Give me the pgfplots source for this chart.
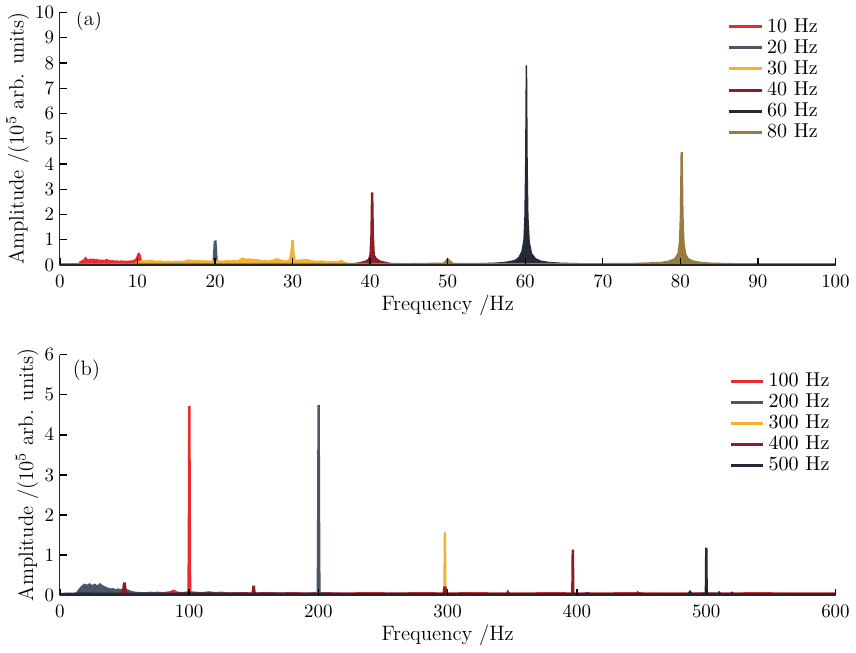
\documentclass[border=0pt]{standalone}
\usepackage{pgfplots}
\pgfplotsset{compat=1.18}
\definecolor{cred}{HTML}{EC2A2E}
\definecolor{cslate}{HTML}{4B5669}
\definecolor{corange}{HTML}{F5B12E}
\definecolor{cdred}{HTML}{8E1C22}
\definecolor{cnavy}{HTML}{232936}
\definecolor{cbrown}{HTML}{9A7B3E}

\pgfplotsset{
  spec/.style={
    scale only axis,
    width=409.5pt,
    font=\fontsize{11}{13}\selectfont,
    tick label style={font=\fontsize{10.2}{12}\selectfont},
    axis lines*=left,
    axis line style={black!85, line width=0.6pt},
    tick align=inside,
    major tick length=3.5pt,
    tick style={black, line width=0.7pt},
    axis on top,
    ymin=0,
    xlabel={Frequency /Hz},
    ylabel={Amplitude /(10$^5$ arb. units)},
    xticklabel style={yshift=-2pt},
    xlabel style={yshift=3pt},
    ylabel style={yshift=-3.5pt},
    yticklabel style={xshift=0.5pt},
    legend cell align=left,
    legend style={draw=none, fill=none, row sep=-1.6pt, inner sep=1pt,
      font=\fontsize{10.6}{12.5}\selectfont},
    legend image code/.code={\draw[#1, line width=1.6pt] (0cm,0cm) -- (0.6cm,0cm);},
  },
  sp/.style={#1, fill=#1, line width=0.8pt},
}

\begin{document}
\begin{tikzpicture}
% ---------------- (a) ----------------
\begin{axis}[spec,
  height=133.4pt,
  xmin=0, xmax=100, ymax=10,
  xtick={0,10,...,100}, ytick={0,1,...,10},
  legend style={at={(0.985,1.0)}, anchor=north east},
]
\addplot[sp=cred] coordinates {
(0,0.02) (2.4,0.02) (2.6,0.12) (2.9,0.17) (3.1,0.2) (3.3,0.29) (3.5,0.22) (3.7,0.19)
(3.9,0.23) (4.1,0.2) (4.3,0.23) (4.5,0.19) (4.7,0.22) (4.9,0.18) (5.1,0.2) (5.3,0.17)
(5.5,0.19) (5.7,0.16) (5.9,0.2) (6.1,0.21) (6.3,0.16) (6.5,0.18) (6.7,0.15) (6.9,0.17)
(7.1,0.14) (7.3,0.16) (7.5,0.15) (7.7,0.13) (7.9,0.16) (8.1,0.14) (8.3,0.15) (8.5,0.13)
(8.7,0.15) (8.9,0.14) (9.1,0.16) (9.3,0.15) (9.5,0.17) (9.7,0.2) (9.9,0.28) (10.05,0.42)
(10.2,0.46) (10.35,0.38) (10.5,0.15) (10.7,0.06) (11,0.03) (100,0.02)
} \closedcycle;
\addlegendentry{10 Hz}
\addplot[sp=cslate] coordinates {
(0,0.01) (19.75,0.02) (19.85,0.5) (19.92,0.93) (20.1,0.95) (20.18,0.6) (20.28,0.03) (100,0.01)
} \closedcycle;
\addlegendentry{20 Hz}
\addplot[sp=corange] coordinates {
(0,0.01) (9.2,0.02) (9.6,0.06) (10,0.1) (10.5,0.17) (11,0.15) (11.5,0.18) (12,0.16)
(12.5,0.14) (13,0.16) (13.5,0.13) (14,0.15) (14.5,0.12) (15,0.15) (15.5,0.13) (16,0.14)
(16.5,0.2) (17,0.18) (17.5,0.16) (18,0.17) (18.5,0.15) (19,0.16) (19.5,0.14) (20,0.15)
(20.5,0.16) (21,0.14) (21.5,0.17) (22,0.15) (22.5,0.18) (23,0.17) (23.5,0.27) (24,0.22)
(24.5,0.24) (25,0.2) (25.5,0.21) (26,0.16) (26.5,0.18) (27,0.15) (27.5,0.19) (28,0.25)
(28.4,0.2) (28.8,0.17) (29.2,0.15) (29.6,0.2) (29.85,0.6) (29.92,0.97) (30.08,0.97) (30.15,0.5)
(30.3,0.18) (30.8,0.19) (31.3,0.2) (31.8,0.22) (32.3,0.17) (32.8,0.15) (33.3,0.14) (33.8,0.16)
(34.3,0.13) (34.8,0.14) (35.3,0.12) (35.8,0.13) (36.3,0.18) (36.7,0.1) (37.2,0.04) (38,0.02)
(100,0.01)
} \closedcycle;
\addlegendentry{30 Hz}
\addplot[sp=cdred] coordinates {
(0,0.01) (36,0.02) (38,0.05) (38.8,0.1) (39.4,0.15) (39.8,0.22) (40.0,0.4) (40.12,1.2)
(40.2,2.85) (40.32,2.85) (40.4,1.2) (40.52,0.4) (40.8,0.25) (41.3,0.15) (42,0.1) (42.8,0.05)
(44,0.02) (100,0.01)
} \closedcycle;
\addlegendentry{40 Hz}
\addplot[sp=cnavy] coordinates {
(0,0.01) (45,0.02) (50,0.03) (54,0.05) (56,0.07) (57,0.09) (58,0.13) (58.7,0.18)
(59.2,0.3) (59.6,0.55) (59.85,1.0) (59.97,1.9) (60.07,4) (60.15,7.9) (60.23,4) (60.33,1.9)
(60.5,0.9) (60.8,0.45) (61.3,0.25) (62,0.15) (63,0.1) (64.5,0.07) (67,0.05) (72,0.03)
(100,0.02)
} \closedcycle;
\addlegendentry{60 Hz}
\addplot[sp=cbrown] coordinates {
(0,0.04) (2,0.05) (5,0.05) (8,0.06) (10,0.05) (13,0.05) (16,0.06) (20,0.05)
(25,0.05) (30,0.06) (35,0.05) (40,0.06) (45,0.05) (49.5,0.07) (49.8,0.18) (50.0,0.25)
(50.3,0.15) (50.7,0.06) (55,0.05) (60,0.06) (65,0.05) (70,0.05) (74,0.06) (76,0.08)
(77.5,0.1) (78.5,0.15) (79.3,0.25) (79.7,0.45) (79.9,0.9) (80.02,2.0) (80.12,4.45) (80.22,4.45)
(80.32,2.0) (80.45,0.9) (80.65,0.45) (81,0.25) (81.7,0.15) (82.7,0.1) (84,0.07) (87,0.05)
(90,0.05) (95,0.05) (100,0.05)
} \closedcycle;
\addlegendentry{80 Hz}
\node[anchor=west] at (rel axis cs:0.012,0.97) {(a)};
\end{axis}

% ---------------- (b) ----------------
\begin{axis}[spec,
  at={(0,-174.3pt)},
  height=127pt,
  xmin=0, xmax=600, ymax=6,
  xtick={0,100,...,600}, ytick={0,1,...,6},
  legend style={at={(1.0,0.95)}, anchor=north east},
]
\addplot[sp=cred] coordinates {
(0,0.01) (50,0.02) (55,0.05) (60,0.04) (65,0.06) (70,0.05) (75,0.07) (80,0.06)
(85,0.08) (88,0.12) (91,0.07) (95,0.06) (99.2,0.08) (99.5,2) (99.8,4.7) (100.5,4.7)
(100.8,2) (101.1,0.08) (105,0.07) (110,0.06) (115,0.08) (120,0.06) (125,0.07) (130,0.05)
(140,0.06) (150,0.05) (160,0.06) (170,0.05) (180,0.06) (190,0.05) (200,0.06) (220,0.05)
(240,0.06) (260,0.05) (280,0.06) (300,0.05) (320,0.06) (340,0.05) (360,0.05) (380,0.06)
(400,0.05) (420,0.05) (440,0.06) (460,0.05) (480,0.05) (500,0.05) (520,0.05) (540,0.06)
(560,0.05) (580,0.05) (600,0.05)
} \closedcycle;
\addlegendentry{100 Hz}
\addplot[sp=cslate] coordinates {
(0,0.02) (10,0.02) (13,0.06) (15,0.15) (17,0.22) (19,0.27) (21,0.24) (23,0.28)
(25,0.23) (27,0.27) (29,0.22) (31,0.28) (33,0.23) (35,0.2) (37,0.17) (39,0.15)
(41,0.16) (43,0.13) (45,0.15) (47,0.13) (49,0.16) (51,0.14) (53,0.12) (55,0.09)
(58,0.07) (62,0.06) (66,0.05) (70,0.07) (75,0.05) (80,0.05) (90,0.04) (100,0.05)
(110,0.04) (120,0.05) (150,0.04) (180,0.04) (199.2,0.05) (199.5,2) (199.8,4.72) (200.5,4.72)
(200.8,2) (201.1,0.05) (220,0.04) (260,0.04) (300,0.03) (400,0.03) (500,0.03) (600,0.03)
} \closedcycle;
\addlegendentry{200 Hz}
\addplot[sp=corange] coordinates {
(0,0.01) (297.2,0.01) (297.5,1.55) (298.2,1.55) (298.5,0.01) (600,0.01)
} \closedcycle;
\addlegendentry{300 Hz}
\addplot[sp=cdred] coordinates {
(0,0.01) (45,0.02) (48.5,0.05) (49.3,0.3) (50.5,0.3) (51.3,0.05) (60,0.03) (100,0.03)
(148.8,0.04) (149.4,0.22) (150.4,0.22) (151,0.04) (200,0.03) (296.5,0.04) (297.2,0.2) (298.5,0.2)
(299.2,0.04) (345.5,0.03) (346.5,0.1) (347.5,0.03) (396.1,0.04) (396.4,1.12) (397.2,1.12) (397.5,0.04)
(405,0.03) (408,0.06) (411,0.03) (446,0.03) (447,0.08) (448,0.03) (600,0.02)
} \closedcycle;
\addlegendentry{400 Hz}
\addplot[sp=cnavy] coordinates {
(0,0.04) (20,0.05) (50,0.04) (100,0.05) (200,0.04) (300,0.04) (400,0.04) (486,0.04)
(487.5,0.1) (489,0.04) (499.4,0.05) (499.7,1.17) (500.4,1.17) (500.7,0.05) (509,0.04) (510,0.08)
(511,0.04) (519,0.04) (520,0.07) (521,0.04) (600,0.04)
} \closedcycle;
\addlegendentry{500 Hz}
\node[anchor=west] at (rel axis cs:0.008,0.933) {(b)};
\end{axis}
\end{tikzpicture}
\end{document}
